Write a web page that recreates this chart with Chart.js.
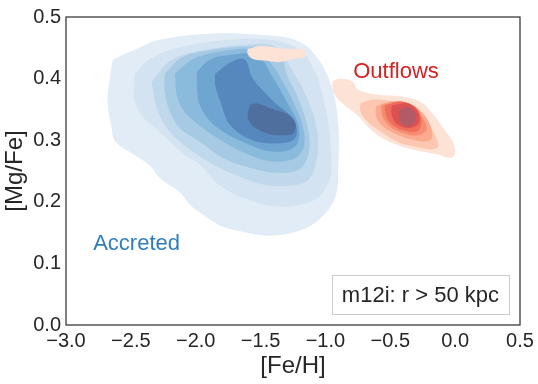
<!DOCTYPE html>
<html>
<head>
<meta charset="utf-8">
<script src="https://cdn.jsdelivr.net/npm/chart.js@4.4.1/dist/chart.umd.min.js"></script>
<style>
  html, body { margin: 0; padding: 0; background: #fff; }
  #wrap { width: 538px; height: 384px; }
</style>
</head>
<body>
<div id="wrap"><canvas id="kde"></canvas></div>
<script>
// KDE contour levels, [Fe/H], [Mg/Fe] pairs (outer -> inner)
const accreted1 = [[-2.64,0.431],[-2.47,0.447],[-2.28,0.463],[-1.89,0.473],[-1.50,0.471],[-1.20,0.460],[-1.04,0.427],[-0.94,0.379],[-0.90,0.323],[-0.90,0.266],[-0.92,0.210],[-1.04,0.173],[-1.20,0.153],[-1.43,0.145],[-1.66,0.152],[-1.81,0.161],[-1.93,0.177],[-2.04,0.194],[-2.12,0.215],[-2.28,0.239],[-2.35,0.258],[-2.48,0.277],[-2.62,0.298],[-2.65,0.323],[-2.68,0.363],[-2.66,0.403]];
const accreted2 = [[-2.47,0.408],[-2.35,0.432],[-2.10,0.452],[-1.74,0.463],[-1.43,0.463],[-1.20,0.447],[-1.08,0.411],[-1.02,0.371],[-0.98,0.331],[-0.96,0.290],[-0.96,0.242],[-1.04,0.210],[-1.16,0.197],[-1.35,0.192],[-1.58,0.202],[-1.81,0.226],[-1.97,0.261],[-2.10,0.279],[-2.22,0.302],[-2.33,0.323],[-2.41,0.339],[-2.47,0.363]];
const accreted3 = [[-2.34,0.395],[-2.18,0.431],[-1.89,0.448],[-1.60,0.455],[-1.39,0.452],[-1.25,0.411],[-1.13,0.363],[-1.06,0.310],[-1.07,0.266],[-1.14,0.234],[-1.30,0.226],[-1.50,0.229],[-1.71,0.245],[-1.91,0.266],[-2.10,0.294],[-2.22,0.319],[-2.30,0.352]];
const accreted4 = [[-2.24,0.408],[-2.10,0.435],[-1.87,0.447],[-1.58,0.452],[-1.35,0.444],[-1.30,0.408],[-1.20,0.363],[-1.13,0.315],[-1.13,0.277],[-1.20,0.253],[-1.37,0.247],[-1.58,0.255],[-1.79,0.271],[-1.97,0.298],[-2.12,0.319],[-2.20,0.347],[-2.24,0.379]];
const accreted5 = [[-2.16,0.408],[-2.02,0.432],[-1.81,0.444],[-1.56,0.447],[-1.43,0.427],[-1.35,0.403],[-1.25,0.363],[-1.17,0.319],[-1.17,0.287],[-1.25,0.269],[-1.43,0.266],[-1.60,0.277],[-1.79,0.298],[-1.94,0.319],[-2.07,0.342],[-2.14,0.368]];
const accreted6 = [[-1.99,0.411],[-1.89,0.431],[-1.71,0.439],[-1.53,0.439],[-1.40,0.400],[-1.30,0.363],[-1.21,0.326],[-1.21,0.298],[-1.27,0.285],[-1.43,0.282],[-1.60,0.294],[-1.76,0.310],[-1.89,0.331],[-1.97,0.358],[-1.99,0.384]];
const accreted7 = [[-1.85,0.408],[-1.71,0.429],[-1.62,0.431],[-1.56,0.400],[-1.40,0.363],[-1.25,0.335],[-1.22,0.310],[-1.27,0.298],[-1.45,0.295],[-1.60,0.303],[-1.74,0.326],[-1.81,0.363],[-1.85,0.390]];
const accreted8 = [[-1.58,0.358],[-1.53,0.360],[-1.40,0.350],[-1.29,0.342],[-1.23,0.327],[-1.25,0.311],[-1.33,0.308],[-1.45,0.311],[-1.56,0.323],[-1.60,0.339]];

// small piece of the outermost outflow level lying on top of the accreted blob
const outflowPatch = [[-1.60,0.448],[-1.50,0.453],[-1.30,0.448],[-1.16,0.447],[-1.16,0.435],[-1.25,0.432],[-1.35,0.427],[-1.45,0.429],[-1.56,0.432],[-1.60,0.440]];
const outflow1 = [[-0.95,0.395],[-0.89,0.400],[-0.79,0.395],[-0.75,0.382],[-0.60,0.374],[-0.42,0.371],[-0.27,0.363],[-0.17,0.342],[-0.09,0.319],[-0.02,0.298],[0.00,0.279],[-0.04,0.271],[-0.14,0.277],[-0.27,0.282],[-0.42,0.290],[-0.56,0.303],[-0.66,0.319],[-0.76,0.342],[-0.86,0.358],[-0.93,0.374]];
const outflow2 = [[-0.73,0.360],[-0.63,0.366],[-0.48,0.363],[-0.32,0.352],[-0.22,0.331],[-0.16,0.310],[-0.13,0.290],[-0.19,0.285],[-0.32,0.290],[-0.45,0.298],[-0.58,0.315],[-0.68,0.331],[-0.73,0.347]];
const outflow3 = [[-0.61,0.355],[-0.50,0.363],[-0.35,0.358],[-0.25,0.344],[-0.19,0.323],[-0.18,0.303],[-0.23,0.298],[-0.35,0.302],[-0.46,0.310],[-0.56,0.323],[-0.61,0.339]];
const outflow4 = [[-0.57,0.357],[-0.44,0.363],[-0.31,0.355],[-0.25,0.336],[-0.22,0.317],[-0.29,0.308],[-0.39,0.311],[-0.50,0.322],[-0.56,0.338]];
const outflow5 = [[-0.54,0.357],[-0.41,0.363],[-0.30,0.352],[-0.26,0.332],[-0.29,0.315],[-0.40,0.316],[-0.50,0.328],[-0.54,0.345]];
const outflow6 = [[-0.49,0.356],[-0.37,0.360],[-0.29,0.347],[-0.28,0.328],[-0.35,0.320],[-0.45,0.326],[-0.49,0.342]];
const outflow7 = [[-0.43,0.350],[-0.36,0.354],[-0.31,0.344],[-0.31,0.329],[-0.37,0.322],[-0.43,0.332]];

const xTicks = [-3.0, -2.5, -2.0, -1.5, -1.0, -0.5, 0.0, 0.5];
const yTicks = [0.0, 0.1, 0.2, 0.3, 0.4, 0.5];

const accretedLabel = { text: 'Accreted', x: -2.456, y: 0.132 };
const outflowLabel = { text: 'Outflows', x: -0.456, y: 0.411 };
const boxText = 'm12i: r > 50 kpc';

const blues = ['#e2ecf6', '#d3e3f1', '#bfd8ec', '#a6cae4', '#8abadc', '#6ea6d1', '#5688bd', '#4f6f9f'];
const reds = ['#fde2d6', '#fcc7b1', '#fbaa90', '#f88c73', '#ef6d5a', '#db5250', '#b25a66'];

const FONT = '"Liberation Sans", Arial, sans-serif';
const INK = '#262626';

function ring(pts) {
  return pts.concat([pts[0]]).map(p => ({ x: p[0], y: p[1] }));
}

function level(pts, color) {
  return {
    data: ring(pts),
    showLine: true,
    fill: 'shape',
    backgroundColor: color,
    borderColor: 'rgba(0,0,0,0)',
    borderWidth: 0,
    pointRadius: 0,
    pointHoverRadius: 0,
    tension: 0.35
  };
}

const layers = [];
[accreted1, accreted2, accreted3, accreted4, accreted5, accreted6, accreted7, accreted8]
  .forEach((pts, i) => layers.push(level(pts, blues[i])));
layers.push(level(outflowPatch, reds[0]));
[outflow1, outflow2, outflow3, outflow4, outflow5, outflow6, outflow7]
  .forEach((pts, i) => layers.push(level(pts, reds[i])));
// first in the list is painted first
layers.forEach((ds, i) => { ds.order = layers.length - i; });

function fmt(v) {
  return (v < 0 ? '\u2212' : '') + Math.abs(v).toFixed(1);
}

// frame, text labels and the boxed caption
const decorations = {
  id: 'decorations',
  afterDraw(chart) {
    const { ctx, chartArea: a, scales: { x, y } } = chart;
    ctx.save();
    ctx.font = '22px ' + FONT;
    ctx.textAlign = 'center';
    ctx.textBaseline = 'middle';
    ctx.fillStyle = '#2f7fbc';
    ctx.fillText(accretedLabel.text, x.getPixelForValue(accretedLabel.x), y.getPixelForValue(accretedLabel.y));
    ctx.fillStyle = '#d42322';
    ctx.fillText(outflowLabel.text, x.getPixelForValue(outflowLabel.x), y.getPixelForValue(outflowLabel.y));

    const w = ctx.measureText(boxText).width + 20;
    const h = 39;
    const bx = a.right - 11 - w;
    const by = a.bottom - 11 - h;
    ctx.fillStyle = 'rgba(255,255,255,0.8)';
    ctx.fillRect(bx, by, w, h);
    ctx.strokeStyle = '#cccccc';
    ctx.lineWidth = 1;
    ctx.strokeRect(Math.round(bx) + 0.5, Math.round(by) + 0.5, Math.round(w), h);
    ctx.fillStyle = INK;
    ctx.fillText(boxText, bx + w / 2, by + h / 2 + 1);

    ctx.strokeStyle = '#333333';
    ctx.lineWidth = 1.25;
    ctx.strokeRect(a.left, a.top, a.right - a.left, a.bottom - a.top);
    ctx.restore();
  }
};

new Chart(document.getElementById('kde'), {
  type: 'scatter',
  data: { datasets: layers },
  options: {
    responsive: true,
    maintainAspectRatio: false,
    animation: false,
    layout: { padding: { top: 15, right: 18, left: 0, bottom: 0 } },
    plugins: {
      legend: { display: false },
      tooltip: { enabled: false }
    },
    scales: {
      x: {
        type: 'linear',
        min: -3.0,
        max: 0.5,
        afterBuildTicks: s => { s.ticks = xTicks.map(v => ({ value: v })); },
        afterFit: s => { s.height = 59; },
        grid: { display: false, drawTicks: false },
        border: { display: false },
        ticks: { color: INK, padding: 4, maxRotation: 0, font: { family: FONT, size: 20 }, callback: v => fmt(v) },
        title: { display: true, text: '[Fe/H]', color: INK, padding: { top: 0, bottom: 6 }, font: { family: FONT, size: 24, lineHeight: 1 } }
      },
      y: {
        type: 'linear',
        min: 0,
        max: 0.5,
        afterBuildTicks: s => { s.ticks = yTicks.map(v => ({ value: v })); },
        afterFit: s => { s.width = 66; },
        grid: { display: false, drawTicks: false },
        border: { display: false },
        ticks: { color: INK, padding: 5, font: { family: FONT, size: 20 }, callback: v => fmt(v) },
        title: { display: true, text: '[Mg/Fe]', color: INK, padding: { top: 3, bottom: 0 }, font: { family: FONT, size: 24, lineHeight: 1 } }
      }
    }
  },
  plugins: [decorations]
});
</script>
</body>
</html>
